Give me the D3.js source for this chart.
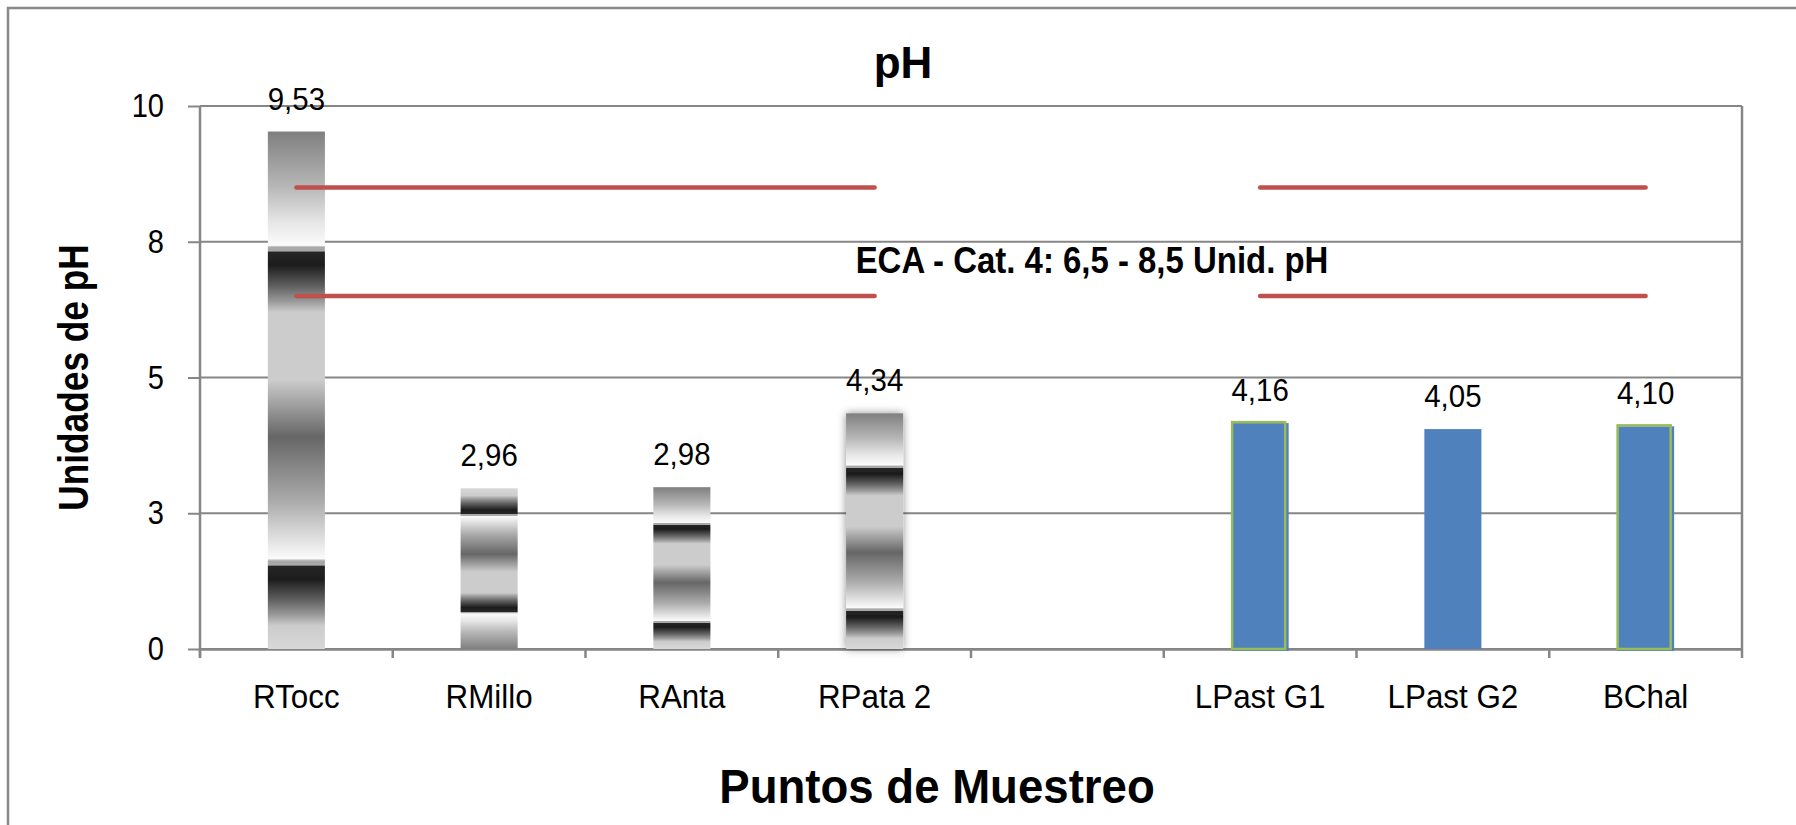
<!DOCTYPE html>
<html>
<head>
<meta charset="utf-8">
<script src="https://cdn.jsdelivr.net/npm/d3@7"></script>
<style>
  body { margin: 0; background: #fff; }
  svg { display: block; font-family: "Liberation Sans", Arial, sans-serif; }
</style>
</head>
<body>
<svg id="chart" width="1796" height="825"></svg>
<script>
// Sampling points (one empty slot separates rivers from lagoons)
const categories = ["RTocc", "RMillo", "RAnta", "RPata 2", "", "LPast G1", "LPast G2", "BChal"];
// Measured pH per point
const phValues = [9.53, 2.96, 2.98, 4.34, null, 4.16, 4.05, 4.10];
// ECA Category 4 limits (drawn as two reference lines)
const ecaMin = [6.5, 6.5, 6.5, 6.5, null, 6.5, 6.5, 6.5];
const ecaMax = [8.5, 8.5, 8.5, 8.5, null, 8.5, 8.5, 8.5];
// Value axis ticks (major unit 2.5, shown without decimals)
const yTickValues = [0, 2.5, 5, 7.5, 10];
const yDomain = [0, 10];

const chartTitle = "pH";
const yTitle = "Unidades de pH";
const xTitle = "Puntos de Muestreo";
const ecaLabel = "ECA - Cat. 4: 6,5 - 8,5 Unid. pH";

const svg = d3.select("#chart");
const W = 1796, H = 825;
const plot = { left: 200, right: 1742, top: 106, bottom: 649 };
const axisColor = "#868686";

const x = d3.scaleBand()
  .domain(d3.range(categories.length))
  .range([plot.left, plot.right])
  .paddingInner(0).paddingOuter(0);
const y = d3.scaleLinear().domain(yDomain).range([plot.bottom, plot.top]);

const esLocale = d3.formatLocale({ decimal: ",", thousands: ".", grouping: [3], currency: ["", ""] });
const fmtValue = esLocale.format(".2f");

// narrows a text run to k times its natural advance width
function condense(sel, k) {
  sel.each(function () {
    const L = this.getComputedTextLength();
    d3.select(this).attr("textLength", L * k).attr("lengthAdjust", "spacingAndGlyphs");
  });
}

// ---- defs: striped picture fill, mirrored copy, soft glow ----
const defs = svg.append("defs");
const stripeStops = [
  [0, "#7f7f7f"], [0.108, "#b8b8b8"], [0.175, "#e6e6e6"], [0.220, "#fbfbfb"],
  [0.2235, "#a8a8a8"], [0.231, "#a8a8a8"], [0.233, "#262626"], [0.258, "#1c1c1c"],
  [0.299, "#606060"], [0.328, "#9a9a9a"], [0.349, "#cccccc"], [0.480, "#cccccc"],
  [0.590, "#666666"], [0.713, "#aaaaaa"], [0.825, "#fbfbfb"], [0.830, "#a8a8a8"],
  [0.838, "#a8a8a8"], [0.840, "#262626"], [0.865, "#1c1c1c"], [0.905, "#606060"],
  [0.934, "#9a9a9a"], [0.955, "#cccccc"], [1, "#d8d8d8"]
];
function addStripe(id, flipped) {
  const g = defs.append("linearGradient").attr("id", id)
    .attr("x1", 0).attr("x2", 0)
    .attr("y1", flipped ? 1 : 0).attr("y2", flipped ? 0 : 1);
  stripeStops.forEach(([o, c]) => g.append("stop").attr("offset", o).attr("stop-color", c));
}
addStripe("stripe", false);
addStripe("stripeFlip", true);
const glow = defs.append("filter").attr("id", "glow")
  .attr("x", "-40%").attr("y", "-10%").attr("width", "180%").attr("height", "120%");
glow.append("feDropShadow").attr("dx", 0).attr("dy", 0).attr("stdDeviation", 4)
  .attr("flood-color", "#000").attr("flood-opacity", 0.45);

// bar appearance per sampling point
const barStyle = {
  "RTocc":   { fill: "url(#stripe)" },
  "RMillo":  { fill: "url(#stripeFlip)" },
  "RAnta":   { fill: "url(#stripe)" },
  "RPata 2": { fill: "url(#stripe)", filter: "url(#glow)" },
  "LPast G1": { fill: "#4F81BD", outline: "#9BBB59" },
  "LPast G2": { fill: "#4F81BD" },
  "BChal":    { fill: "#4F81BD", outline: "#9BBB59" }
};

// ---- chart frame ----
svg.append("path")
  .attr("d", `M8,${H} V8 H${W}`)
  .attr("fill", "none").attr("stroke", "#888").attr("stroke-width", 2.5);

// ---- gridlines ----
svg.append("g").selectAll("line").data(yTickValues).join("line")
  .attr("x1", plot.left).attr("x2", plot.right)
  .attr("y1", d => y(d)).attr("y2", d => y(d))
  .attr("stroke", axisColor).attr("stroke-width", 2);
// right border of the plot area
svg.append("line")
  .attr("x1", plot.right).attr("x2", plot.right)
  .attr("y1", y(yDomain[1])).attr("y2", y(0))
  .attr("stroke", axisColor).attr("stroke-width", 2.5);

// ---- y axis ----
const yAxis = svg.append("g").attr("transform", `translate(${plot.left},0)`)
  .call(d3.axisLeft(y).tickValues(yTickValues).tickFormat(d3.format(".0f"))
    .tickSize(12).tickPadding(24));
yAxis.select(".domain").attr("stroke", axisColor).attr("stroke-width", 2.5)
  .attr("d", `M0,${y(yDomain[1])}V${y(0) + 8}`);
yAxis.selectAll(".tick line").attr("stroke", axisColor).attr("stroke-width", 2);
yAxis.selectAll(".tick text").attr("font-size", 33).attr("fill", "#000")
  .attr("font-family", "Liberation Sans, Arial, sans-serif")
  .call(condense, 0.88);

// ---- x axis ----
const bw = x.bandwidth();
const xAxis = svg.append("g").attr("transform", `translate(0,${plot.bottom})`)
  .call(d3.axisBottom(x).tickFormat(i => categories[i]).tickSize(0).tickPadding(36));
xAxis.select(".domain").attr("stroke", axisColor).attr("stroke-width", 2.5);
xAxis.selectAll(".tick text").attr("font-size", 33).attr("fill", "#000")
  .attr("font-family", "Liberation Sans, Arial, sans-serif")
  .call(condense, 0.95);
// category boundary tick marks
const boundaries = d3.range(categories.length + 1).map(i => i < categories.length ? x(i) : x(i - 1) + bw);
xAxis.append("g").selectAll("line").data(boundaries).join("line")
  .attr("x1", d => d).attr("x2", d => d).attr("y1", 0).attr("y2", 9)
  .attr("stroke", axisColor).attr("stroke-width", 2.5);

// ---- bars ----
const barW = bw * 0.296;
const barData = phValues.map((v, i) => ({ i, v, name: categories[i] })).filter(d => d.v != null);
const bars = svg.append("g");
barData.forEach(d => {
  const st = barStyle[d.name] || { fill: "#4F81BD" };
  const x0 = x(d.i) + (bw - barW) / 2;
  const yTop = y(d.v);
  bars.append("rect")
    .attr("x", x0).attr("y", yTop)
    .attr("width", barW).attr("height", y(0) - yTop + (st.outline ? 2 : 0))
    .attr("fill", st.fill)
    .attr("filter", st.filter || null);
  if (st.outline) {
    bars.append("rect")
      .attr("x", x0 + 0.5).attr("y", yTop - 1)
      .attr("width", barW - 4).attr("height", y(0) - yTop + 1)
      .attr("fill", "none").attr("stroke", st.outline).attr("stroke-width", 2.5);
  }
});

// ---- ECA limit lines ----
const cx = i => x(i) + bw / 2;
const limitLine = d3.line()
  .defined(d => d != null)
  .x((d, i) => cx(i))
  .y(d => y(d));
[ecaMin, ecaMax].forEach(series => {
  svg.append("path")
    .datum(series)
    .attr("d", limitLine)
    .attr("fill", "none").attr("stroke", "#C0504D")
    .attr("stroke-width", 4.5).attr("stroke-linecap", "round");
});

// ---- value labels ----
svg.append("g").selectAll("text").data(barData).join("text")
  .attr("x", d => cx(d.i)).attr("y", d => y(d.v) - 22)
  .attr("text-anchor", "middle").attr("font-size", 32).attr("fill", "#000")
  .text(d => fmtValue(d.v))
  .call(condense, 0.92);

// ---- titles ----
svg.append("text")
  .attr("x", 903).attr("y", 78).attr("text-anchor", "middle")
  .attr("font-size", 44).attr("font-weight", "bold").text(chartTitle);

svg.append("text")
  .attr("x", 1092).attr("y", 273).attr("text-anchor", "middle")
  .attr("font-size", 37).attr("font-weight", "bold").text(ecaLabel)
  .call(condense, 0.89);

svg.append("text")
  .attr("x", 937).attr("y", 803).attr("text-anchor", "middle")
  .attr("font-size", 49).attr("font-weight", "bold").text(xTitle)
  .call(condense, 0.93);

svg.append("text")
  .attr("transform", `translate(88,${(plot.top + plot.bottom) / 2}) rotate(-90)`)
  .attr("text-anchor", "middle")
  .attr("font-size", 42).attr("font-weight", "bold").text(yTitle)
  .call(condense, 0.84);
</script>
</body>
</html>
